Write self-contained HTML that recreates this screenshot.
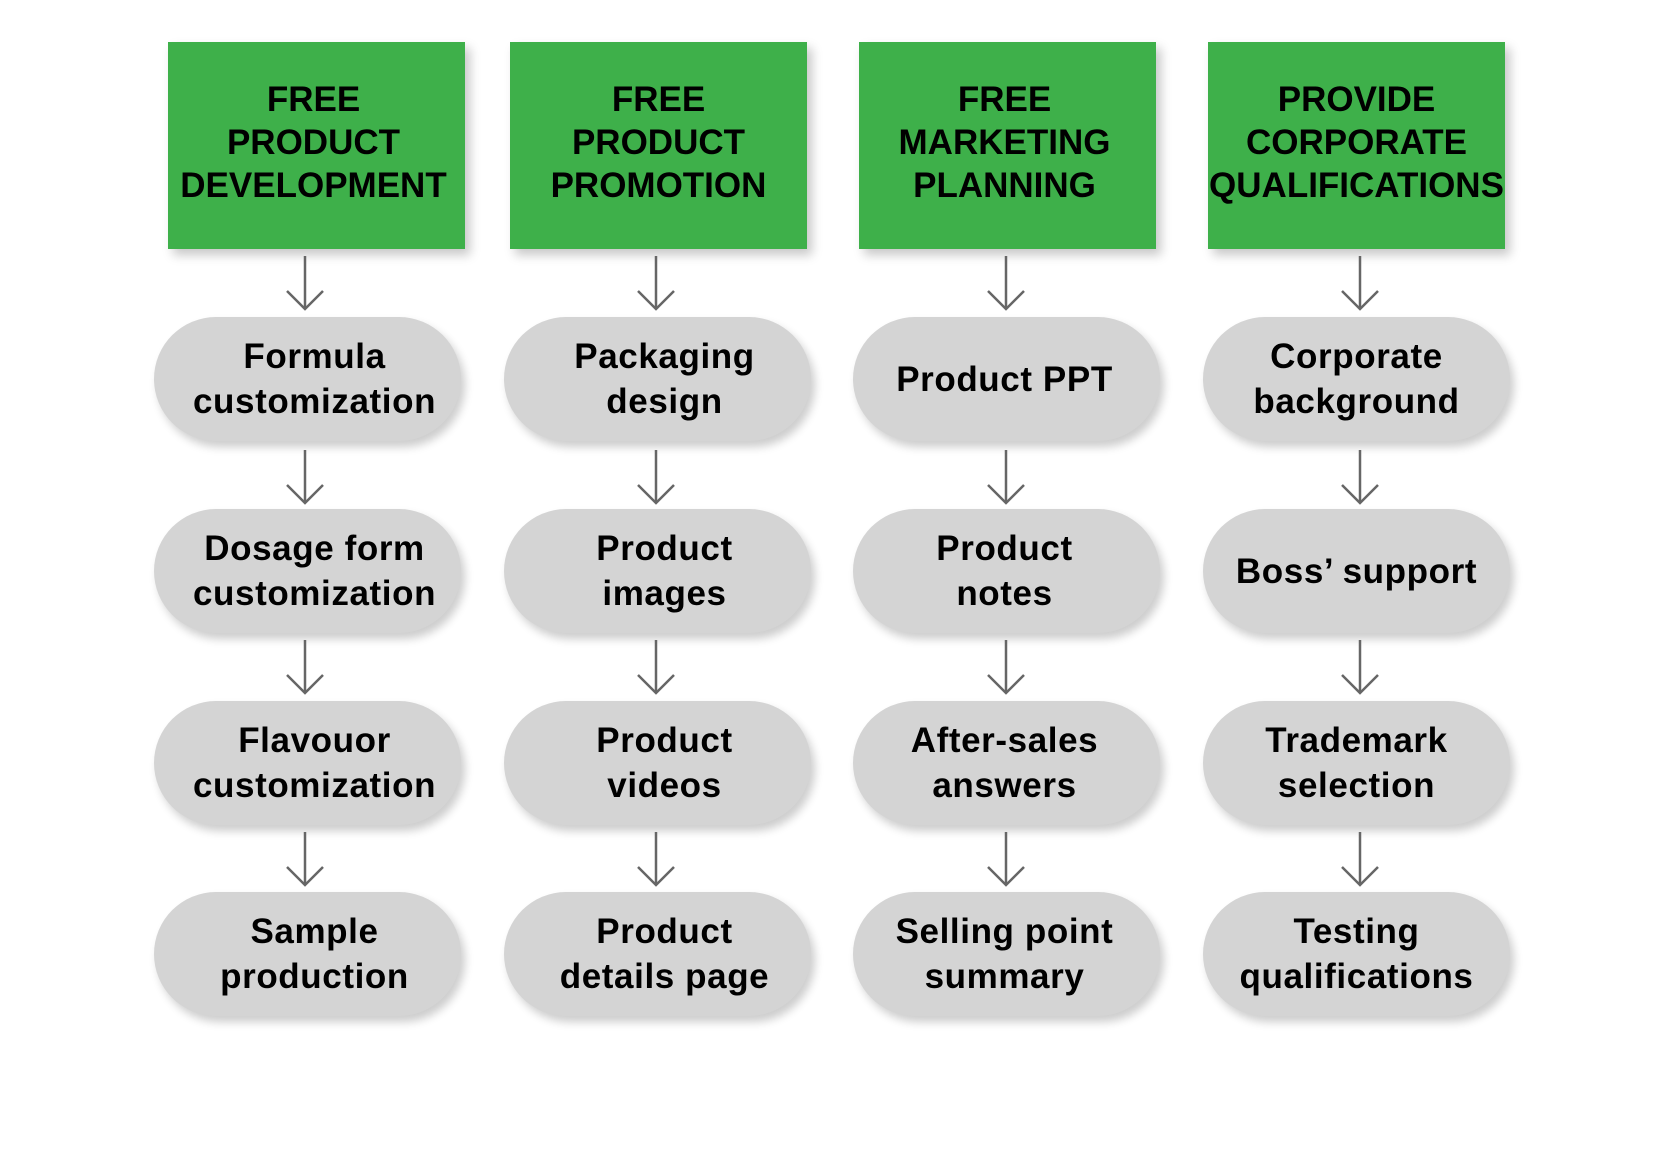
<!DOCTYPE html>
<html><head><meta charset="utf-8"><style>
html,body{margin:0;padding:0;background:#fff;}
body{width:1667px;height:1149px;position:relative;overflow:hidden;font-family:"Liberation Sans",Arial,sans-serif;font-weight:bold;color:#000;}
.g{position:absolute;top:42px;height:207px;width:297px;background:#3eb04a;box-shadow:5px 6px 10px rgba(0,0,0,0.22);display:flex;align-items:center;justify-content:center;text-align:center;font-size:35px;line-height:43px;padding-bottom:6px;box-sizing:border-box;}
.p{position:absolute;width:307px;height:124px;border-radius:62px;background:#d4d4d4;box-shadow:4px 6px 9px rgba(0,0,0,0.2);display:flex;align-items:center;justify-content:center;text-align:center;font-size:35px;line-height:45px;letter-spacing:0.6px;box-sizing:border-box;white-space:nowrap;}
.c1 .p,.c2 .p{padding-left:14px;}
.c3 .p{padding-right:4px;}
svg{position:absolute;left:0;top:0;}
</style></head><body>
<div class="g" style="left:168px;padding-right:6px">FREE<br>PRODUCT<br>DEVELOPMENT</div>
<div class="g" style="left:510px">FREE<br>PRODUCT<br>PROMOTION</div>
<div class="g" style="left:859px;padding-right:6px">FREE<br>MARKETING<br>PLANNING</div>
<div class="g" style="left:1208px;white-space:nowrap">PROVIDE<br>CORPORATE<br>QUALIFICATIONS</div>

<div class="c1">
<div class="p" style="left:154px;top:317px">Formula<br>customization</div>
<div class="p" style="left:154px;top:509px">Dosage form<br>customization</div>
<div class="p" style="left:154px;top:701px">Flavouor<br>customization</div>
<div class="p" style="left:154px;top:892px">Sample<br>production</div>
</div>
<div class="c2">
<div class="p" style="left:504px;top:317px">Packaging<br>design</div>
<div class="p" style="left:504px;top:509px">Product<br>images</div>
<div class="p" style="left:504px;top:701px">Product<br>videos</div>
<div class="p" style="left:504px;top:892px">Product<br>details page</div>
</div>
<div class="c3">
<div class="p" style="left:853px;top:317px">Product PPT</div>
<div class="p" style="left:853px;top:509px">Product<br>notes</div>
<div class="p" style="left:853px;top:701px">After-sales<br>answers</div>
<div class="p" style="left:853px;top:892px">Selling point<br>summary</div>
</div>
<div class="c4">
<div class="p" style="left:1203px;top:317px">Corporate<br>background</div>
<div class="p" style="left:1203px;top:509px">Boss’ support</div>
<div class="p" style="left:1203px;top:701px">Trademark<br>selection</div>
<div class="p" style="left:1203px;top:892px">Testing<br>qualifications</div>
</div>

<svg width="1667" height="1149" viewBox="0 0 1667 1149">
<defs><g id="a" stroke="#666" stroke-width="2.5" fill="none"><line x1="0" y1="0" x2="0" y2="53"/><polyline points="-18,35 0,53 18,35"/></g></defs>
<g>
<use href="#a" x="305" y="256"/><use href="#a" x="305" y="450"/><use href="#a" x="305" y="640"/><use href="#a" x="305" y="832"/>
<use href="#a" x="656" y="256"/><use href="#a" x="656" y="450"/><use href="#a" x="656" y="640"/><use href="#a" x="656" y="832"/>
<use href="#a" x="1006" y="256"/><use href="#a" x="1006" y="450"/><use href="#a" x="1006" y="640"/><use href="#a" x="1006" y="832"/>
<use href="#a" x="1360" y="256"/><use href="#a" x="1360" y="450"/><use href="#a" x="1360" y="640"/><use href="#a" x="1360" y="832"/>
</g>
</svg>
</body></html>
